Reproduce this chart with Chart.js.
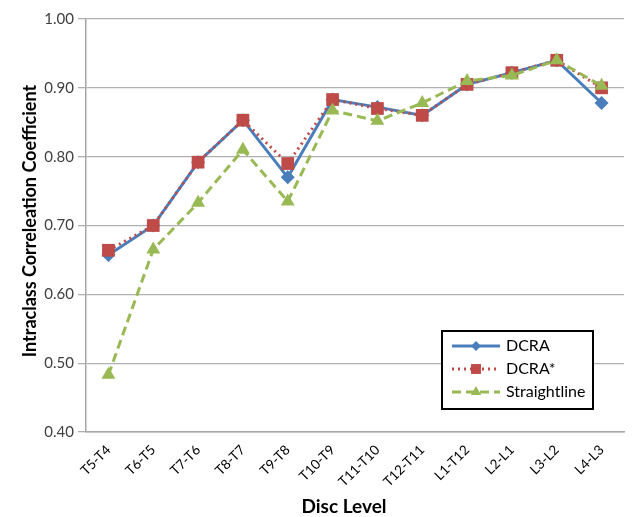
<!DOCTYPE html>
<html>
<head>
<meta charset="utf-8">
<script src="https://cdn.jsdelivr.net/npm/chart.js@4/dist/chart.umd.min.js"></script>
<style>
  html, body { margin: 0; padding: 0; background: #fff; }
  #wrap { width: 633px; height: 517px; position: relative; }
</style>
</head>
<body>
<div id="wrap"><canvas id="iccChart" width="633" height="517"></canvas></div>
<script>
// Disc levels and ICC values
const discLevels = ['T5-T4', 'T6-T5', 'T7-T6', 'T8-T7', 'T9-T8', 'T10-T9', 'T11-T10', 'T12-T11', 'L1-T12', 'L2-L1', 'L3-L2', 'L4-L3'];
const dcra = [0.657, 0.700, 0.792, 0.853, 0.770, 0.883, 0.872, 0.860, 0.905, 0.922, 0.940, 0.878];
const dcraStar = [0.664, 0.700, 0.792, 0.853, 0.790, 0.883, 0.870, 0.860, 0.905, 0.922, 0.940, 0.900];
const straightline = [0.483, 0.665, 0.733, 0.810, 0.735, 0.867, 0.852, 0.878, 0.910, 0.918, 0.940, 0.903];
const yTicks = [0.4, 0.5, 0.6, 0.7, 0.8, 0.9, 1.0];

const FONT = 'Lato, "Open Sans", sans-serif';
const BLUE = '#4a7ebb', RED = '#be4b48', GREEN = '#98b954';

const seriesStyle = [
    { label: 'DCRA', color: BLUE, dash: [], point: 'rectRot', radius: 7 },
    { label: 'DCRA*', color: RED, dash: [2, 4], point: 'rect', radius: 9 },
    { label: 'Straightline', color: GREEN, dash: [9, 5], point: 'triangle', radius: 8 }
];

// legend box inside the plot + axis titles placed where Excel put them
const extras = {
    id: 'extras',
    afterDraw(chart) {
        const ctx = chart.ctx;
        const x = 442, y = 331, w = 151, h = 78;
        ctx.save();
        ctx.fillStyle = '#fff';
        ctx.fillRect(x, y, w, h);
        ctx.strokeStyle = '#000';
        ctx.lineWidth = 2;
        ctx.strokeRect(x, y, w, h);
        seriesStyle.forEach((s, i) => {
            const cy = y + 15 + i * 23;
            ctx.strokeStyle = s.color;
            ctx.lineWidth = 3;
            ctx.setLineDash(s.dash);
            ctx.beginPath();
            ctx.moveTo(x + 10, cy);
            ctx.lineTo(x + 58, cy);
            ctx.stroke();
            ctx.setLineDash([]);
            ctx.fillStyle = s.color;
            Chart.helpers.drawPoint(ctx, { pointStyle: s.point, radius: s.radius - 2, borderWidth: 0 }, x + 34, cy);
            ctx.fillStyle = '#000';
            ctx.font = '16px ' + FONT;
            ctx.textBaseline = 'middle';
            ctx.textAlign = 'left';
            ctx.fillText(s.label, x + 64, cy);
        });

        // axis titles
        ctx.fillStyle = '#000';
        ctx.font = 'bold 19px ' + FONT;
        ctx.textAlign = 'center';
        ctx.textBaseline = 'middle';
        ctx.fillText('Disc Level', 344, 507);
        ctx.translate(30, 221);
        ctx.rotate(-Math.PI / 2);
        ctx.font = 'bold 18px ' + FONT;
        ctx.fillText('Intraclass Correleation Coefficient', 0, 0);
        ctx.restore();
    }
};

const drawOrder = [3, 2, 1]; // later series on top, like Excel
const datasets = [dcra, dcraStar, straightline].map((vals, i) => {
    const s = seriesStyle[i];
    return {
        label: s.label,
        data: vals,
        order: drawOrder[i],
        borderColor: s.color,
        backgroundColor: s.color,
        borderWidth: 3,
        borderDash: s.dash,
        pointStyle: s.point,
        pointRadius: s.radius,
        pointBorderWidth: 0,
        tension: 0
    };
});

new Chart(document.getElementById('iccChart'), {
    type: 'line',
    data: { labels: discLevels, datasets: datasets },
    options: {
        responsive: false,
        animation: false,
        devicePixelRatio: 1,
        layout: { padding: { top: 19, right: 1, left: 0, bottom: 0 } },
        plugins: { legend: { display: false }, tooltip: { enabled: false } },
        scales: {
            x: {
                offset: true,
                grid: { display: false, drawTicks: false },
                border: { color: '#a6a6a6', width: 1.5 },
                ticks: { autoSkip: false, color: '#000', font: { family: FONT, size: 13.5 }, maxRotation: 45, minRotation: 45, padding: 10 },
                afterFit(scale) { scale.height = 85; }
            },
            y: {
                min: 0.4,
                max: 1.0,
                afterBuildTicks(scale) { scale.ticks = yTicks.map(v => ({ value: v })); },
                grid: { color: '#b0b0b0', lineWidth: 1.3, tickLength: 8 },
                border: { color: '#a6a6a6', width: 1.5 },
                ticks: { color: '#404040', font: { family: FONT, size: 15 }, padding: 4, callback: v => v.toFixed(2) },
                afterFit(scale) { scale.width = 86; }
            }
        }
    },
    plugins: [extras]
});
</script>
</body>
</html>
